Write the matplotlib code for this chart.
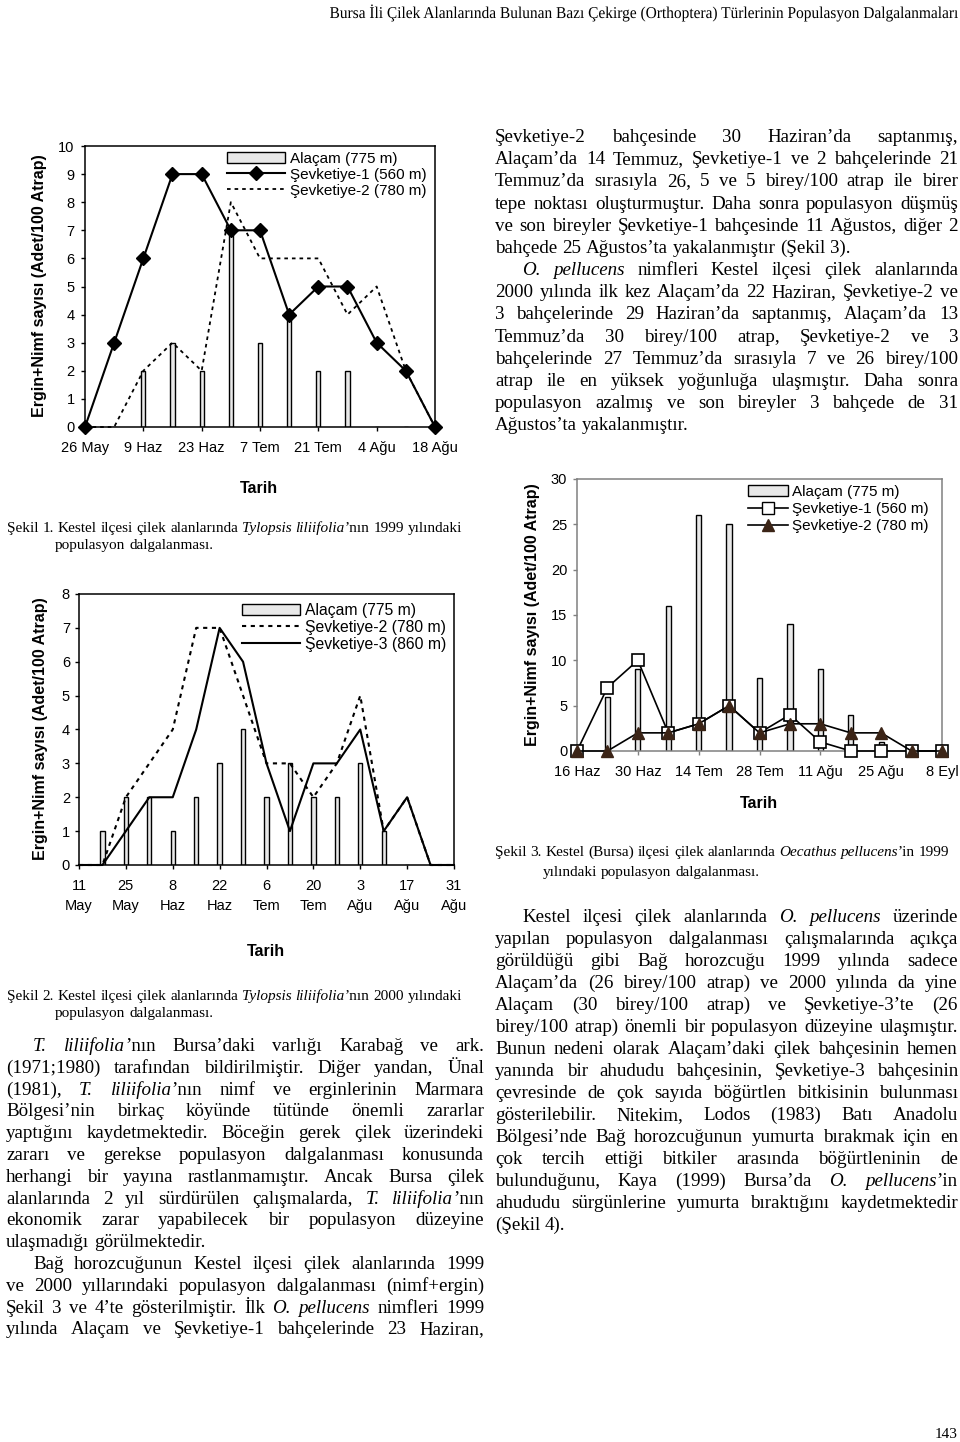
import pandas as pd
import matplotlib
matplotlib.use('Agg')
import matplotlib.pyplot as plt
from matplotlib.patches import Patch, PathPatch
from matplotlib.lines import Line2D
from matplotlib.textpath import TextPath
from matplotlib.font_manager import FontProperties
from matplotlib.transforms import Affine2D

W, H = 960, 1442
SANS = 'Liberation Sans'
SERIF = 'Liberation Serif'
plt.rcParams['font.family'] = SANS

# ---- Şekil 1: T. liliifolia, 1999 ----
dates1 = pd.date_range('1999-05-26', '1999-08-18', freq='7D')
ticks1 = ['26 May', '9 Haz', '23 Haz', '7 Tem', '21 Tem', '4 Ağu', '18 Ağu']
alacam1 = [0, 0, 2, 3, 2, 7, 3, 4, 2, 2, 0, 0, 0]
sevk1_1 = [0, 3, 6, 9, 9, 7, 7, 4, 5, 5, 3, 2, 0]
sevk2_1 = [0, 0, 2, 3, 2, 8, 6, 6, 6, 4, 5, 2, 0]

# ---- Şekil 2: T. liliifolia, 2000 ----
dates2 = pd.date_range('2000-05-11', '2000-08-31', freq='7D')
ticks2 = ['11\nMay', '25\nMay', '8\nHaz', '22\nHaz', '6\nTem', '20\nTem', '3\nAğu', '17\nAğu', '31\nAğu']
alacam2 = [0, 1, 2, 2, 1, 2, 3, 4, 2, 3, 2, 2, 3, 1, 0, 0, 0]
sevk2_2 = [0, 0, 2, 3, 4, 7, 7, 5, 3, 3, 2, 3, 5, 1, 2, 0, 0]
sevk3_2 = [0, 0, 1, 2, 2, 4, 7, 6, 3, 1, 3, 3, 4, 1, 2, 0, 0]

# ---- Şekil 3: O. pellucens, 1999 ----
dates3 = pd.date_range('1999-06-16', '1999-09-08', freq='7D')
ticks3 = ['16 Haz', '30 Haz', '14 Tem', '28 Tem', '11 Ağu', '25 Ağu', '8 Eyl']
alacam3 = [0, 6, 9, 16, 26, 25, 8, 14, 9, 4, 1, 0, 0]
sevk1_3 = [0, 7, 10, 2, 3, 5, 2, 4, 1, 0, 0, 0, 0]
sevk2_3 = [0, 0, 2, 2, 3, 5, 2, 3, 3, 2, 2, 0, 0]

ylab = 'Ergin+Nimf sayısı (Adet/100 Atrap)'
BARC = '#e8e8e8'
BROWN = '#3b2416'
DOT = (0, (2, 2.2))

fig = plt.figure(figsize=(W / 100, H / 100), dpi=100)


def ax_at(l, t, r, b):
    return fig.add_axes([l / W, 1 - b / H, (r - l) / W, (b - t) / H])


def fx(x):
    return x / W


def fy(y):
    return 1 - y / H


def style_axes(ax, dates, labels, ymax, ystep, color='black', xpad=7, ypad=4):
    ax.set_xlim(dates[0], dates[-1])
    ax.set_ylim(0, ymax)
    ax.set_yticks(range(0, ymax + 1, ystep))
    ax.set_xticks(pd.date_range(dates[0], dates[-1], freq='14D'))
    ax.set_xticklabels(labels)
    for s in ax.spines.values():
        s.set_color(color)
        s.set_linewidth(1.1)
    ax.tick_params(axis='both', direction='out', length=3, width=1, color=color, labelsize=10.5)
    ax.tick_params(axis='x', pad=xpad)
    ax.tick_params(axis='y', pad=ypad)


# ---------- chart 1 ----------
ax1 = ax_at(85, 146, 435, 427)
ax1.bar(dates1, alacam1, width=1.0, color=BARC, edgecolor='black', linewidth=1, zorder=2)
ax1.plot(dates1, sevk2_1, color='black', lw=1.3, ls=DOT, zorder=3, clip_on=False)
ax1.plot(dates1, sevk1_1, color='black', lw=1.5, marker='D', ms=7, zorder=4, clip_on=False)
style_axes(ax1, dates1, ticks1, 10, 1, ypad=4.5)
h1 = [Patch(facecolor=BARC, edgecolor='black', lw=1),
      Line2D([], [], color='black', lw=1.5, marker='D', ms=7),
      Line2D([], [], color='black', lw=1.3, ls=DOT)]
ax1.legend(h1, ['Alaçam (775 m)', 'Şevketiye-1 (560 m)', 'Şevketiye-2 (780 m)'],
           loc='upper left', bbox_to_anchor=(fx(227), fy(152)), bbox_transform=fig.transFigure,
           frameon=False, fontsize=11, handlelength=3.8, handletextpad=0.35,
           labelspacing=0.12, borderpad=0, borderaxespad=0)
fig.text(fx(40), fy(286), ylab, rotation=90, ha='center', va='center', fontsize=11.5, fontweight='bold')
fig.text(fx(259), fy(488), 'Tarih', ha='center', va='center', fontsize=11.5, fontweight='bold')

# ---------- chart 2 ----------
ax2 = ax_at(79, 594, 454, 865)
ax2.bar(dates2, alacam2, width=1.3, color=BARC, edgecolor='black', linewidth=1, zorder=2)
ax2.plot(dates2, sevk2_2, color='black', lw=1.5, ls=DOT, zorder=3, clip_on=False)
ax2.plot(dates2, sevk3_2, color='black', lw=1.5, zorder=4, clip_on=False)
style_axes(ax2, dates2, ticks2, 8, 1, ypad=3.5)
for lab in ax2.get_xticklabels():
    lab.set_linespacing(1.55)
h2 = [Patch(facecolor=BARC, edgecolor='black', lw=1),
      Line2D([], [], color='black', lw=1.5, ls=DOT),
      Line2D([], [], color='black', lw=1.5)]
ax2.legend(h2, ['Alaçam (775 m)', 'Şevketiye-2 (780 m)', 'Şevketiye-3 (860 m)'],
           loc='upper left', bbox_to_anchor=(fx(242), fy(603)), bbox_transform=fig.transFigure,
           frameon=False, fontsize=11.3, handlelength=3.7, handletextpad=0.3,
           labelspacing=0.12, borderpad=0, borderaxespad=0)
fig.text(fx(41), fy(729), ylab, rotation=90, ha='center', va='center', fontsize=11.5, fontweight='bold')
fig.text(fx(266), fy(952), 'Tarih', ha='center', va='center', fontsize=11.5, fontweight='bold')

# ---------- chart 3 ----------
ax3 = ax_at(577, 479, 942, 751)
ax3.bar(dates3, alacam3, width=1.2, color=BARC, edgecolor='black', linewidth=1, zorder=2)
ax3.plot(dates3, sevk1_3, color='black', lw=1.2, marker='s', ms=9, mfc='white', mec='black',
         mew=1.2, zorder=4, clip_on=False)
ax3.plot(dates3, sevk2_3, color='black', lw=1.2, marker='^', ms=9, mfc=BROWN, mec=BROWN,
         zorder=5, clip_on=False)
style_axes(ax3, dates3, ticks3, 30, 5, color='#808080', ypad=4)
ax3.tick_params(labelcolor='black')
h3 = [Patch(facecolor=BARC, edgecolor='black', lw=1),
      Line2D([], [], color='black', lw=1.2, marker='s', ms=9, mfc='white', mec='black'),
      Line2D([], [], color='black', lw=1.2, marker='^', ms=9, mfc=BROWN, mec=BROWN)]
ax3.legend(h3, ['Alaçam (775 m)', 'Şevketiye-1 (560 m)', 'Şevketiye-2 (780 m)'],
           loc='upper left', bbox_to_anchor=(fx(748), fy(485)), bbox_transform=fig.transFigure,
           frameon=False, fontsize=11, handlelength=2.6, handletextpad=0.3,
           labelspacing=0.2, borderpad=0, borderaxespad=0)
fig.text(fx(532), fy(615), ylab, rotation=90, ha='center', va='center', fontsize=11.5, fontweight='bold')
fig.text(fx(759), fy(803), 'Tarih', ha='center', va='center', fontsize=11.5, fontweight='bold')

# ---------- page text ----------
rend = fig.canvas.get_renderer()


def split_words(line):
    words, cur, buf, it = [], [], '', False
    for ch in line:
        if ch == '_':
            if buf:
                cur.append((buf, it))
                buf = ''
            it = not it
        elif ch == ' ':
            if buf:
                cur.append((buf, it))
                buf = ''
            if cur:
                words.append(cur)
                cur = []
        else:
            buf += ch
    if buf:
        cur.append((buf, it))
    if cur:
        words.append(cur)
    return words


def put_line(line, x0, x1, y, size, justify=False, indent=0):
    placed = []
    for w in split_words(line):
        objs = []
        for s, it in w:
            t = fig.text(0, 0, s, fontsize=size, family=SERIF, style='italic' if it else 'normal',
                         ha='left', va='baseline')
            objs.append((t, t.get_window_extent(rend).width))
        placed.append(objs)
    wl = [sum(wd for _, wd in o) for o in placed]
    start = x0 + indent
    gap = size * 100 / 72 * 0.25
    if justify and len(placed) > 1:
        gap = (x1 - start - sum(wl)) / (len(placed) - 1)
    x = start
    for o, l in zip(placed, wl):
        xx = x
        for t, wd in o:
            t.set_position((fx(xx), fy(y)))
            xx += wd
        x += l + gap


def paragraph(lines, x0, x1, y0, dy, size, ends, indents):
    for i, ln in enumerate(lines):
        put_line(ln, x0, x1, y0 + i * dy, size, justify=i not in ends,
                 indent=27 if i in indents else 0)


BODY = 13.7

right_top = [
    'Şevketiye-2 bahçesinde 30 Haziran’da saptanmış,',
    'Alaçam’da 14 Temmuz, Şevketiye-1 ve 2 bahçelerinde 21',
    'Temmuz’da sırasıyla 26, 5 ve 5 birey/100 atrap ile birer',
    'tepe noktası oluşturmuştur. Daha sonra populasyon düşmüş',
    've son bireyler Şevketiye-1 bahçesinde 11 Ağustos, diğer 2',
    'bahçede 25 Ağustos’ta yakalanmıştır (Şekil 3).',
    '_O. pellucens_ nimfleri Kestel ilçesi çilek alanlarında',
    '2000 yılında ilk kez Alaçam’da 22 Haziran, Şevketiye-2 ve',
    '3 bahçelerinde 29 Haziran’da saptanmış, Alaçam’da 13',
    'Temmuz’da 30 birey/100 atrap, Şevketiye-2 ve 3',
    'bahçelerinde 27 Temmuz’da sırasıyla 7 ve 26 birey/100',
    'atrap ile en yüksek yoğunluğa ulaşmıştır. Daha sonra',
    'populasyon azalmış ve son bireyler 3 bahçede de 31',
    'Ağustos’ta yakalanmıştır.',
]
paragraph(right_top, 495, 958, 142, 22.18, BODY, ends={5, 13}, indents={6})

left_body = [
    '_T. liliifolia_’nın Bursa’daki varlığı Karabağ ve ark.',
    '(1971;1980) tarafından bildirilmiştir. Diğer yandan, Ünal',
    '(1981), _T. liliifolia_’nın nimf ve erginlerinin Marmara',
    'Bölgesi’nin birkaç köyünde tütünde önemli zararlar',
    'yaptığını kaydetmektedir. Böceğin gerek çilek üzerindeki',
    'zararı ve gerekse populasyon dalgalanması konusunda',
    'herhangi bir yayına rastlanmamıştır. Ancak Bursa çilek',
    'alanlarında 2 yıl sürdürülen çalışmalarda, _T. liliifolia_’nın',
    'ekonomik zarar yapabilecek bir populasyon düzeyine',
    'ulaşmadığı görülmektedir.',
    'Bağ horozcuğunun Kestel ilçesi çilek alanlarında 1999',
    've 2000 yıllarındaki populasyon dalgalanması (nimf+ergin)',
    'Şekil 3 ve 4’te gösterilmiştir. İlk _O. pellucens_ nimfleri 1999',
    'yılında Alaçam ve Şevketiye-1 bahçelerinde 23 Haziran,',
]
paragraph(left_body, 6, 484, 1051, 21.8, BODY, ends={9}, indents={0, 10})

right_low = [
    'Kestel ilçesi çilek alanlarında _O. pellucens_ üzerinde',
    'yapılan populasyon dalgalanması çalışmalarında açıkça',
    'görüldüğü gibi Bağ horozcuğu 1999 yılında sadece',
    'Alaçam’da (26 birey/100 atrap) ve 2000 yılında da yine',
    'Alaçam (30 birey/100 atrap) ve Şevketiye-3’te (26',
    'birey/100 atrap) önemli bir populasyon düzeyine ulaşmıştır.',
    'Bunun nedeni olarak Alaçam’daki çilek bahçesinin hemen',
    'yanında bir ahududu bahçesinin, Şevketiye-3 bahçesinin',
    'çevresinde de çok sayıda böğürtlen bitkisinin bulunması',
    'gösterilebilir. Nitekim, Lodos (1983) Batı Anadolu',
    'Bölgesi’nde Bağ horozcuğunun yumurta bırakmak için en',
    'çok tercih ettiği bitkiler arasında böğürtleninin de',
    'bulunduğunu, Kaya (1999) Bursa’da _O. pellucens_’in',
    'ahududu sürgünlerine yumurta bıraktığını kaydetmektedir',
    '(Şekil 4).',
]
paragraph(right_low, 495, 958, 922, 22.0, BODY, ends={14}, indents={0})

CAP = 11
put_line('Şekil 1. Kestel ilçesi çilek alanlarında _Tylopsis liliifolia_’nın 1999 yılındaki', 7, 470, 532, CAP)
put_line('populasyon dalgalanması.', 55, 470, 549, CAP)
put_line('Şekil 2. Kestel ilçesi çilek alanlarında _Tylopsis liliifolia_’nın 2000 yılındaki', 7, 470, 1000, CAP)
put_line('populasyon dalgalanması.', 55, 470, 1017, CAP)
put_line('Şekil 3. Kestel (Bursa) ilçesi çilek alanlarında _Oecathus_ _pellucens_’in 1999', 495, 958, 856, CAP)
put_line('yılındaki populasyon dalgalanması.', 543, 958, 876, CAP)

# running header: condensed serif, squeezed horizontally to its width
hdr = 'Bursa İli Çilek Alanlarında Bulunan Bazı Çekirge (Orthoptera) Türlerinin Populasyon Dalgalanmaları'
tp = TextPath((0, 0), hdr, size=16.5, prop=FontProperties(family=SERIF))
ext = tp.get_extents()
sx = 628 / ext.width
fig.patches.append(PathPatch(tp, facecolor='black', lw=0,
                             transform=Affine2D().translate(-ext.x0, 0).scale(sx, 1).translate(330, H - 18)))

fig.text(fx(958), fy(1438), '143', fontsize=11, family=SERIF, ha='right', va='baseline')

fig.savefig('out.png', dpi=100)
